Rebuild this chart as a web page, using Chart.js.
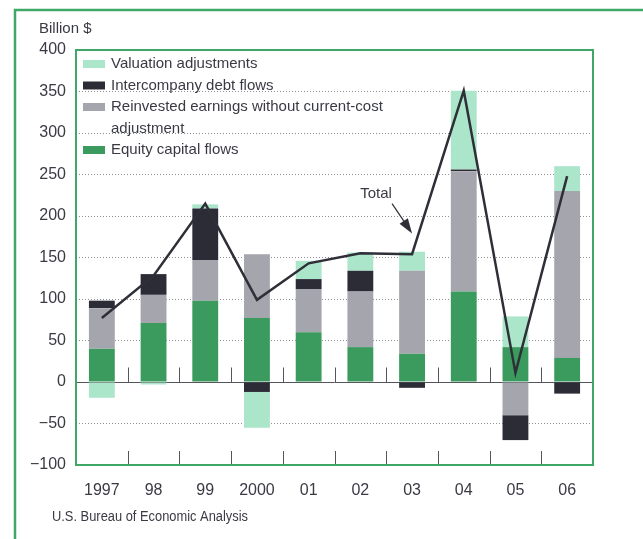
<!DOCTYPE html>
<html>
<head>
<meta charset="utf-8">
<script src="https://cdn.jsdelivr.net/npm/chart.js@4.4.1/dist/chart.umd.min.js"></script>
<style>
  html, body { margin: 0; padding: 0; background: #fff; }
  #wrap { position: relative; width: 643px; height: 539px; }
</style>
</head>
<body>
<div id="wrap"><canvas id="grafico" width="643" height="539"></canvas></div>
<script>
// Dados (bilhões de dólares)
const anos = ['1997', '98', '99', '2000', '01', '02', '03', '04', '05', '06'];
const ajustesAvaliacao = [-19, -3, 5, -43, 22, 22, 23, 95, 37, 30];
const dividaIntercompanhia = [9, 25, 62, -12, 12, 25, -7, 2, -30, -14];
const lucrosReinvestidos = [49, 34, 49, 77, 52, 67, 100, 145, -40, 201];
const fluxosCapital = [40, 71, 98, 77, 60, 42, 34, 109, 42, 29];
const total = [77, 128, 215, 99, 143, 155, 154, 351, 11, 248];

const eixoY = { min: -100, max: 400, passo: 50 };

const legendaItens = [
    { linhas: ['Valuation adjustments'], cor: '#abe5ca' },
    { linhas: ['Intercompany debt flows'], cor: '#2c2c36' },
    { linhas: ['Reinvested earnings without current-cost', 'adjustment'], cor: '#a5a5ae' },
    { linhas: ['Equity capital flows'], cor: '#3b9a5d' }
];

const verde = '#3fa867';
const corTexto = '#3a3a44';
const fonte = '"Liberation Sans", Arial, Helvetica, sans-serif';

function formatarNumero(v) {
    return v < 0 ? '\u2212' + Math.abs(v) : String(v);
}

// Plugin para moldura, legenda, marcas e anotação
const extras = {
    id: 'extras',
    beforeDraw(chart) {
        const ctx = chart.ctx;
        ctx.save();
        ctx.fillStyle = '#fff';
        ctx.fillRect(0, 0, chart.width, chart.height);
        ctx.restore();
    },
    beforeDatasetsDraw(chart) {
        const { ctx, chartArea: a, scales: { x, y } } = chart;
        const y0 = Math.round(y.getPixelForValue(0)) + 0.5;
        ctx.save();
        ctx.strokeStyle = '#55555c';
        ctx.lineWidth = 1;
        ctx.beginPath();
        ctx.moveTo(a.left, y0);
        ctx.lineTo(a.right, y0);
        // marcas entre as categorias
        for (let i = 1; i < anos.length; i++) {
            const xp = Math.round((x.getPixelForValue(i - 1) + x.getPixelForValue(i)) / 2) + 0.5;
            ctx.moveTo(xp, y0);
            ctx.lineTo(xp, y0 - 15);
            ctx.moveTo(xp, a.bottom);
            ctx.lineTo(xp, a.bottom - 14);
        }
        ctx.stroke();
        ctx.restore();
    },
    afterDraw(chart) {
        const { ctx, chartArea: a, scales: { x, y } } = chart;
        ctx.save();

        // caixa verde do gráfico
        ctx.strokeStyle = verde;
        ctx.lineWidth = 2;
        ctx.strokeRect(a.left, a.top, a.right - a.left, a.bottom - a.top);

        // moldura externa
        ctx.lineWidth = 2.5;
        ctx.beginPath();
        ctx.moveTo(15, chart.height + 5);
        ctx.lineTo(15, 10);
        ctx.lineTo(chart.width + 5, 10);
        ctx.stroke();

        // título do eixo e fonte
        ctx.fillStyle = corTexto;
        ctx.textBaseline = 'middle';
        ctx.textAlign = 'left';
        ctx.font = '15px ' + fonte;
        ctx.fillText('Billion $', 39, 29);
        ctx.font = '14px ' + fonte;
        ctx.fillText('U.S. Bureau of Economic Analysis', 52, 517, 196);

        // legenda
        ctx.font = '15px ' + fonte;
        let ly = 64;
        legendaItens.forEach(item => {
            ctx.fillStyle = item.cor;
            ctx.fillRect(83, ly - 4, 22, 8);
            ctx.fillStyle = corTexto;
            item.linhas.forEach(l => {
                ctx.fillText(l, 111, ly);
                ly += 21.5;
            });
        });

        // anotação "Total" com seta
        const cx = x.getPixelForValue(6);
        ctx.font = '15px ' + fonte;
        ctx.textAlign = 'center';
        ctx.fillText('Total', cx - 36, y.getPixelForValue(227));
        const x1 = cx - 20, y1 = y.getPixelForValue(215);
        const x2 = cx, y2 = y.getPixelForValue(179);
        const ang = Math.atan2(y2 - y1, x2 - x1);
        ctx.strokeStyle = '#2f2f38';
        ctx.fillStyle = '#2f2f38';
        ctx.lineWidth = 1.2;
        ctx.beginPath();
        ctx.moveTo(x1, y1);
        ctx.lineTo(x2 - 12 * Math.cos(ang), y2 - 12 * Math.sin(ang));
        ctx.stroke();
        ctx.beginPath();
        ctx.moveTo(x2, y2);
        ctx.lineTo(x2 - 15 * Math.cos(ang) + 5 * Math.sin(ang), y2 - 15 * Math.sin(ang) - 5 * Math.cos(ang));
        ctx.lineTo(x2 - 15 * Math.cos(ang) - 5 * Math.sin(ang), y2 - 15 * Math.sin(ang) + 5 * Math.cos(ang));
        ctx.closePath();
        ctx.fill();

        ctx.restore();
    }
};

const ctx = document.getElementById('grafico').getContext('2d');

const grafico = new Chart(ctx, {
    type: 'bar',
    data: {
        labels: anos,
        datasets: [
            { type: 'line', label: 'Total', data: total, borderColor: '#2f2f38', borderWidth: 2.5,
              pointRadius: 0, tension: 0, order: 0, stack: 'linha' },
            { label: 'Equity capital flows', data: fluxosCapital, backgroundColor: '#3b9a5d', order: 1, stack: 's' },
            { label: 'Reinvested earnings without current-cost adjustment', data: lucrosReinvestidos, backgroundColor: '#a5a5ae', order: 1, stack: 's' },
            { label: 'Intercompany debt flows', data: dividaIntercompanhia, backgroundColor: '#2c2c36', order: 1, stack: 's' },
            { label: 'Valuation adjustments', data: ajustesAvaliacao, backgroundColor: '#abe5ca', order: 1, stack: 's' }
        ]
    },
    options: {
        responsive: false,
        animation: false,
        layout: { padding: { left: 0, right: 50, top: 50, bottom: 44 } },
        datasets: { bar: { barPercentage: 0.5, categoryPercentage: 1 } },
        plugins: { legend: { display: false }, tooltip: { enabled: false } },
        scales: {
            x: {
                stacked: true,
                grid: { display: false },
                border: { display: false },
                ticks: { color: corTexto, font: { family: fonte, size: 16 }, padding: 8, maxRotation: 0, autoSkip: false },
                afterFit(s) { s.height = 30; }
            },
            y: {
                stacked: true,
                min: eixoY.min,
                max: eixoY.max,
                border: { display: false, dash: [1, 2] },
                grid: {
                    drawTicks: false,
                    color: c => (c.tick && (c.tick.value === 0 || c.tick.value === eixoY.min || c.tick.value === eixoY.max)) ? 'rgba(0,0,0,0)' : '#8f8f96',
                    lineWidth: 1
                },
                ticks: {
                    stepSize: eixoY.passo,
                    color: corTexto,
                    font: { family: fonte, size: 16 },
                    padding: 10,
                    callback: v => formatarNumero(v)
                },
                afterFit(s) { s.width = 76; }
            }
        }
    },
    plugins: [extras]
});
</script>
</body>
</html>
